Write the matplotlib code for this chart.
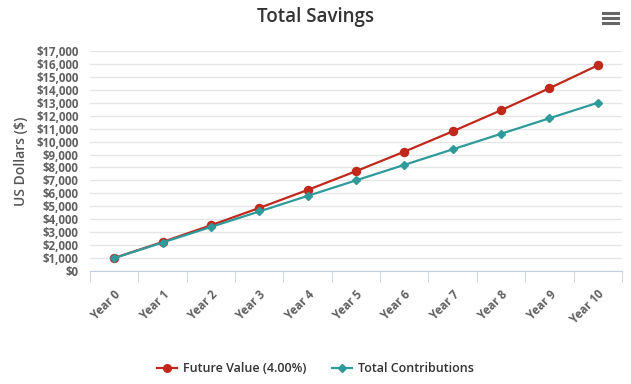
import matplotlib
matplotlib.use("Agg")
import matplotlib.pyplot as plt
from matplotlib.lines import Line2D
from matplotlib.ticker import FuncFormatter

plt.rcParams['font.family'] = ['Open Sans', 'DejaVu Sans']

# Data
years = ["Year 0", "Year 1", "Year 2", "Year 3", "Year 4", "Year 5",
         "Year 6", "Year 7", "Year 8", "Year 9", "Year 10"]
future_value = [1000, 2240, 3530, 4870, 6260, 7710, 9220, 10790, 12420, 14120, 15890]
contributions = [1000, 2200, 3400, 4600, 5800, 7000, 8200, 9400, 10600, 11800, 13000]

red = "#c0281b"
teal = "#2f9a9a"
grey = "#606060"

fig = plt.figure(figsize=(6.31, 3.84), dpi=100)
ax = fig.add_axes([0.1426, 0.2943, 0.843, 0.5729])

x = list(range(len(years)))
ax.plot(x, future_value, color=red, lw=1.6, marker="o", ms=5.8, zorder=3)
ax.plot(x, contributions, color=teal, lw=1.6, marker="D", ms=4, zorder=4)

ax.set_xlim(-0.5, len(years) - 0.5)
ax.set_ylim(0, 17000)
ax.set_yticks(range(0, 17001, 1000))
ax.set_yticklabels(["${:,.0f}".format(v) for v in range(0, 17001, 1000)],
                   fontweight="bold")
ax.grid(axis="y", color="#e6e6e6", lw=1)
ax.set_axisbelow(True)

ax.set_xticks(x)
ax.set_xticklabels(years, rotation=45, ha="right", va="top", rotation_mode="anchor",
                   fontweight="bold")
ax.set_xticks([i - 0.5 for i in range(len(years) + 1)], minor=True)
ax.tick_params(axis="x", which="major", length=0, pad=12, labelsize=8.3, labelcolor=grey)
ax.tick_params(axis="x", which="minor", length=8, color="#c0d0e0")
ax.tick_params(axis="y", length=0, pad=8, labelsize=8.3, labelcolor=grey)

for s in ["top", "right", "left"]:
    ax.spines[s].set_visible(False)
ax.spines["bottom"].set_color("#c0d0e0")

ax.set_ylabel("US Dollars ($)", fontsize=10, color="#555555", labelpad=6,
              fontweight="semibold")

fig.text(0.5, 0.955, "Total Savings", ha="center", va="center", fontsize=13.5,
         color="#333333", fontweight="semibold")

# menu icon
for yy in [0.965, 0.952, 0.939]:
    fig.add_artist(Line2D([0.955, 0.98], [yy, yy], color="#666666", lw=2.2))

handles = [
    Line2D([], [], color=red, lw=1.6, marker="o", ms=5.5),
    Line2D([], [], color=teal, lw=1.6, marker="D", ms=4),
]
fig.legend(handles, ["Future Value (4.00%)", "Total Contributions"], loc="center",
           bbox_to_anchor=(0.5, 0.04), ncol=2, frameon=False,
           prop={"size": 9, "weight": "semibold"},
           handlelength=1.6, columnspacing=2.0, handletextpad=0.5,
           labelcolor="#333333")

fig.savefig("out.png", dpi=100)
